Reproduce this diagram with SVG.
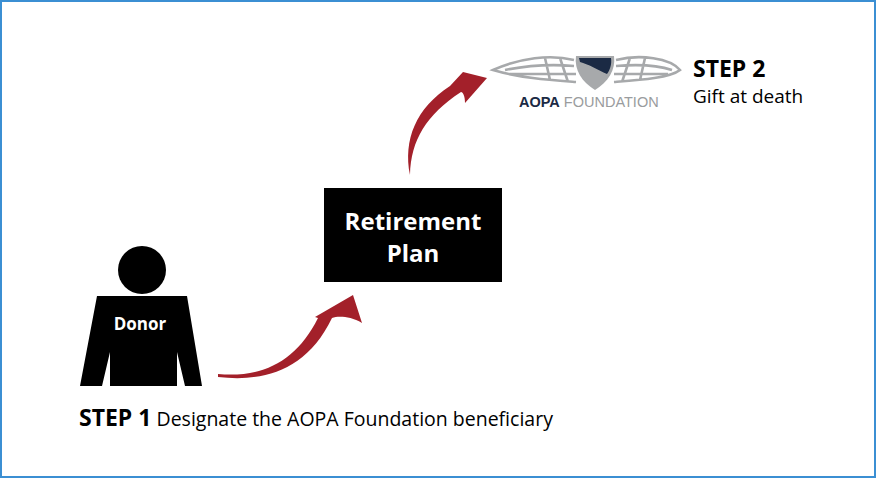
<svg xmlns="http://www.w3.org/2000/svg" width="876" height="478" viewBox="0 0 876 478">
<style>
.t{font-family:"Open Sans","Liberation Sans",sans-serif;fill:#000}
.b{font-weight:bold}
.arr{fill:#a3202a}
.wing{fill:none;stroke:#a7a9ab;stroke-width:2.6}
</style>
<rect x="1" y="1" width="874" height="476" fill="#fff" stroke="#3b8fd3" stroke-width="2"/>
<g id="connectors">
<path class="arr" d="M218,374 C262,378 296,362 318,318 L315,317 L353,295 L362,323 C350,316 338,316 332,318 C306,372 262,382 218,377 Z"/>
<path class="arr" d="M410,175 C403,140 416,108 450,86 L463,72 L487,78 L465,103 C465,96 463,92 461,92 C426,115 411,140 410,175 Z"/>
</g>
<g id="donor">
<circle cx="142" cy="270" r="24"/>
<path d="M97,296 L187,296 L202,386 L185,386 L177,352 L177,386 L110,386 L110,352 L102,386 L80,386 Z"/>
<text class="t b" x="140" y="330" font-size="17" text-anchor="middle" style="fill:#fff">Donor</text>
</g>
<g id="plan">
<rect x="324" y="188" width="178" height="94"/>
<text class="t b" x="413" y="230" font-size="24" text-anchor="middle" style="fill:#fff">Retirement</text>
<text class="t b" x="413" y="262" font-size="24" text-anchor="middle" style="fill:#fff">Plan</text>
</g>
<g id="foundation">
<path class="wing" d="M574,60 C550,54 520,58 493,70 C520,78 550,80 576,82 M574,66 C550,64 525,66 505,70 M576,74 C555,74 530,74 510,74 M560,58 L568,82 M545,58 L550,80"/>
<path class="wing" d="M616,60 C640,54 670,58 680,70 C670,78 640,80 614,82 M616,66 C640,64 660,66 672,70 M614,74 C635,74 655,74 668,74 M630,58 L622,82 M645,58 L640,80"/>
<path d="M576,56 L614,56 C616,70 608,82 595,90 C582,82 574,70 576,56 Z" fill="#a7a9ab"/>
<path d="M579,58 L611,58 C612,64 610,70 607,74 C598,70 588,64 580,62 Z" fill="#1b2a44"/>
<text x="519" y="107" font-family="Liberation Sans,Arial,sans-serif" font-size="14.5"><tspan font-weight="bold" fill="#1b2a44">AOPA</tspan><tspan fill="#9a9c9e"> FOUNDATION</tspan></text>
<text class="t b" x="693" y="77" font-size="23">STEP 2</text>
<text class="t" x="693" y="103" font-size="19">Gift at death</text>
</g>
<g id="step1">
<text class="t" x="79" y="426" font-size="19.5"><tspan class="b" font-size="23">STEP 1</tspan> Designate the AOPA Foundation beneficiary</text>
</g>
</svg>
